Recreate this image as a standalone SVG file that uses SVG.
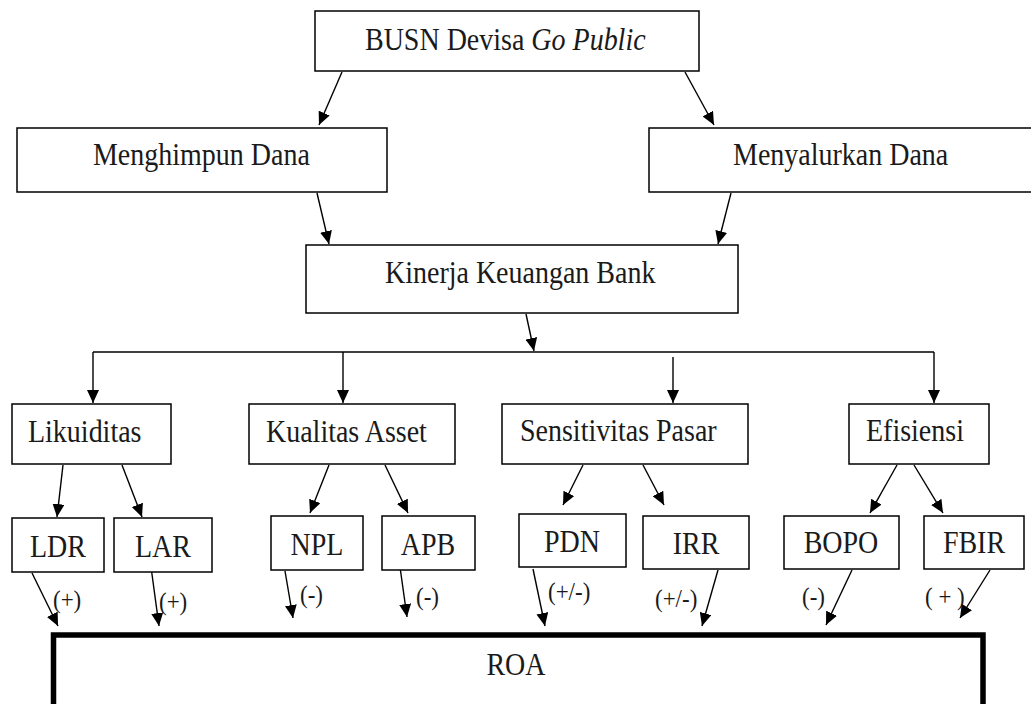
<svg xmlns="http://www.w3.org/2000/svg" width="1031" height="704" viewBox="0 0 1031 704">
<style>
.box{fill:#fff;stroke:#000;stroke-width:1.5}
.roa{fill:#fff;stroke:#000;stroke-width:5.5}
.t{font-family:"Liberation Serif","Times New Roman","DejaVu Serif",serif;font-size:28px;fill:#1a1a1a}
.s{font-family:"Liberation Serif","Times New Roman","DejaVu Serif",serif;font-size:23px;fill:#1a1a1a}
.c{fill:none;stroke:#000;stroke-width:1.4}
</style>
<defs>
<marker id="ah" markerUnits="userSpaceOnUse" markerWidth="14" markerHeight="12" refX="13" refY="6" orient="auto">
<path d="M0,0 L13,6 L0,12 Z" fill="#000"/>
</marker>
</defs>
<rect width="1031" height="704" fill="#fff"/>
<g id="connectors">
<path class="c" d="M342,72 L319,125" marker-end="url(#ah)"/>
<path class="c" d="M685,72 L714,125" marker-end="url(#ah)"/>
<path class="c" d="M317,193 L329,244" marker-end="url(#ah)"/>
<path class="c" d="M731,193 L718,244" marker-end="url(#ah)"/>
<path class="c" d="M526,314 L534,351" marker-end="url(#ah)"/>
<path class="c" d="M93,352 L934,352"/>
<path class="c" d="M93,352 L93,403" marker-end="url(#ah)"/>
<path class="c" d="M343,352 L343,403" marker-end="url(#ah)"/>
<path class="c" d="M673,357 L673,403" marker-end="url(#ah)"/>
<path class="c" d="M934,352 L934,403" marker-end="url(#ah)"/>
<path class="c" d="M63,465 L57,517" marker-end="url(#ah)"/>
<path class="c" d="M122,465 L142,517" marker-end="url(#ah)"/>
<path class="c" d="M329,465 L310,513" marker-end="url(#ah)"/>
<path class="c" d="M385,465 L408,513" marker-end="url(#ah)"/>
<path class="c" d="M583,465 L563,505" marker-end="url(#ah)"/>
<path class="c" d="M643,465 L664,505" marker-end="url(#ah)"/>
<path class="c" d="M897,465 L870,513" marker-end="url(#ah)"/>
<path class="c" d="M914,465 L943,513" marker-end="url(#ah)"/>
<path class="c" d="M32,573 L58,626" marker-end="url(#ah)"/>
<path class="c" d="M151,567 L159,626" marker-end="url(#ah)"/>
<path class="c" d="M285,571 L293,618" marker-end="url(#ah)"/>
<path class="c" d="M400,567 L407,617" marker-end="url(#ah)"/>
<path class="c" d="M533,569 L545,626" marker-end="url(#ah)"/>
<path class="c" d="M718,570 L702,626" marker-end="url(#ah)"/>
<path class="c" d="M852,570 L826,625" marker-end="url(#ah)"/>
<path class="c" d="M990,570 L960,618" marker-end="url(#ah)"/>
<text class="s" x="53" y="608" transform="matrix(1,0,0,1.13,0,-79.04)">(+)</text>
<text class="s" x="159" y="610" transform="matrix(1,0,0,1.13,0,-79.3)">(+)</text>
<text class="s" x="300" y="603" transform="matrix(1,0,0,1.13,0,-78.39)">(-)</text>
<text class="s" x="416" y="605" transform="matrix(1,0,0,1.13,0,-78.65)">(-)</text>
<text class="s" x="548" y="600" transform="matrix(1,0,0,1.13,0,-78)">(+/-)</text>
<text class="s" x="655" y="607" transform="matrix(1,0,0,1.13,0,-78.91)">(+/-)</text>
<text class="s" x="802" y="605" transform="matrix(1,0,0,1.13,0,-78.65)">(-)</text>
<text class="s" x="925" y="605" transform="matrix(1,0,0,1.13,0,-78.65)" xml:space="preserve">( + )</text>
</g>
<g id="busn"><rect class="box" x="315" y="11" width="384" height="60"/><text class="t" x="365" y="50" transform="matrix(1,0,0,1.13,0,-6.5)">BUSN Devisa <tspan font-style="italic">Go Public</tspan></text></g>
<g id="menghimpun"><rect class="box" x="17" y="128" width="370" height="64"/><text class="t" x="93" y="165" transform="matrix(1,0,0,1.13,0,-21.45)">Menghimpun Dana</text></g>
<g id="menyalurkan"><rect class="box" x="649" y="128" width="390" height="64"/><text class="t" x="733" y="165" transform="matrix(1,0,0,1.13,0,-21.45)">Menyalurkan Dana</text></g>
<g id="kinerja"><rect class="box" x="306" y="245" width="432" height="68"/><text class="t" x="385" y="283" transform="matrix(1,0,0,1.13,0,-36.79)">Kinerja Keuangan Bank</text></g>
<g id="likuiditas"><rect class="box" x="12" y="404" width="159" height="60"/><text class="t" x="28" y="442" transform="matrix(1,0,0,1.13,0,-57.46)">Likuiditas</text></g>
<g id="kualitas"><rect class="box" x="249" y="404" width="206" height="60"/><text class="t" x="266" y="442" transform="matrix(1,0,0,1.13,0,-57.46)">Kualitas Asset</text></g>
<g id="sensitivitas"><rect class="box" x="502" y="404" width="246" height="60"/><text class="t" x="520" y="441" transform="matrix(1,0,0,1.13,0,-57.33)">Sensitivitas Pasar</text></g>
<g id="efisiensi"><rect class="box" x="849" y="404" width="140" height="60"/><text class="t" x="866" y="441" transform="matrix(1,0,0,1.13,0,-57.33)">Efisiensi</text></g>
<g id="ldr"><rect class="box" x="12" y="518" width="92" height="54"/><text class="t" x="58" y="557" text-anchor="middle" transform="matrix(1,0,0,1.13,0,-72.41)">LDR</text></g>
<g id="lar"><rect class="box" x="114" y="518" width="98" height="54"/><text class="t" x="163" y="557" text-anchor="middle" transform="matrix(1,0,0,1.13,0,-72.41)">LAR</text></g>
<g id="npl"><rect class="box" x="271" y="516" width="92" height="54"/><text class="t" x="317" y="555" text-anchor="middle" transform="matrix(1,0,0,1.13,0,-72.15)">NPL</text></g>
<g id="apb"><rect class="box" x="382" y="516" width="93" height="54"/><text class="t" x="428" y="555" text-anchor="middle" transform="matrix(1,0,0,1.13,0,-72.15)">APB</text></g>
<g id="pdn"><rect class="box" x="519" y="514" width="107" height="53"/><text class="t" x="572" y="552" text-anchor="middle" transform="matrix(1,0,0,1.13,0,-71.76)">PDN</text></g>
<g id="irr"><rect class="box" x="643" y="516" width="106" height="53"/><text class="t" x="696" y="554" text-anchor="middle" transform="matrix(1,0,0,1.13,0,-72.02)">IRR</text></g>
<g id="bopo"><rect class="box" x="784" y="516" width="115" height="53"/><text class="t" x="841" y="553" text-anchor="middle" transform="matrix(1,0,0,1.13,0,-71.89)">BOPO</text></g>
<g id="fbir"><rect class="box" x="924" y="516" width="100" height="53"/><text class="t" x="974" y="553" text-anchor="middle" transform="matrix(1,0,0,1.13,0,-71.89)">FBIR</text></g>
<g id="roa"><rect class="roa" x="53.5" y="635" width="929.5" height="100"/><text class="t" x="516" y="675" text-anchor="middle" transform="matrix(1,0,0,1.13,0,-87.75)">ROA</text></g>
</svg>
